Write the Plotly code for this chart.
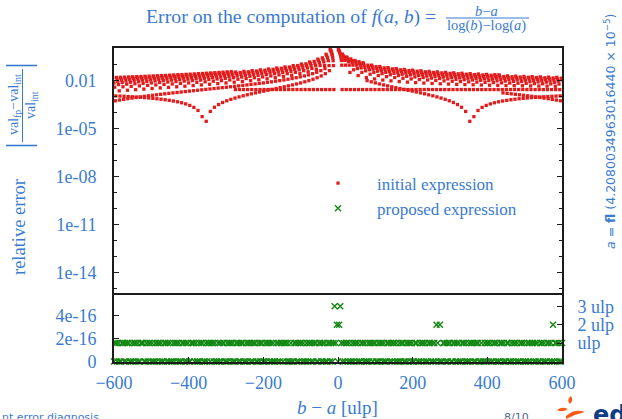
import plotly.graph_objects as go

# ------------------------------------------------------------------
# DATA  (k = b - a in ulp, relative error of the initial expression)
# ------------------------------------------------------------------
K0A = [-594, -583, -572, -561, -550, -539, -528, -517, -506, -495, -484, -473, -462, -451, -440,
       -429, -418, -407, -396, -385, -374, -363, -352, -341, -330, -319, -308, -297, -286]
E0A = [0.01601, 0.01637, 0.01675, 0.01714, 0.01755, 0.01797, 0.01841, 0.01887, 0.01936, 0.01986,
       0.02039, 0.02094, 0.02152, 0.02213, 0.02277, 0.02344, 0.02415, 0.0249, 0.02569, 0.02653,
       0.02741, 0.02836, 0.02936, 0.03044, 0.03158, 0.03281, 0.03413, 0.03555, 0.03708]
K0B = [-275, -264, -253, -242, -231, -220, -209, -198, -187, -176, -165, -154, -143, -132, -121,
       -110, -99, -88, -77, -66, -55, -44, -33, -22, -11, 11, 22, 33, 44, 55, 66, 77, 88, 99, 110,
       121, 132, 143, 154, 165, 176, 187, 198, 209, 220, 231, 242, 253, 264, 275, 286, 297, 308,
       319, 330, 341, 352, 363, 374, 385, 396, 407, 418, 429, 440, 451, 462, 473, 484, 495, 506,
       517, 528, 539, 550, 561, 572, 583, 594]
E0B = [0.0028, 0.0028, 0.0028, 0.0028, 0.0028, 0.0028, 0.0028, 0.0028, 0.0028, 0.0028,
       0.0028, 0.0028, 0.0028, 0.0028, 0.0028, 0.0028, 0.0028, 0.0028, 0.0028, 0.0028,
       0.0028, 0.0028, 0.0028, 0.0028, 0.0028, 0.0028, 0.0028, 0.0028, 0.0028, 0.0028,
       0.0028, 0.0028, 0.0028, 0.0028, 0.0028, 0.0028, 0.0028, 0.0028, 0.0028, 0.0028,
       0.0028, 0.0028, 0.0028, 0.0028, 0.0028, 0.0028, 0.0028, 0.0028, 0.0028, 0.0028,
       0.0028, 0.0028, 0.0028, 0.0028, 0.0028, 0.0028, 0.0028, 0.0028, 0.0028, 0.0028,
       0.0028, 0.0028, 0.0028, 0.0028, 0.0028, 0.0028, 0.0028, 0.0028, 0.0028, 0.0028,
       0.0028, 0.0028, 0.0028, 0.0028, 0.0028, 0.0028, 0.0028, 0.0028, 0.0028]

K1 = [-582, -560, -538, -516, -494, -472, -450, -428, -406, -384, -362, -340, -318, -296, -274,
      -252, -230, -208, -186, -164, -142, -120, -98, -76, -54, -32, -21, 1, 12, 23, 34, 45, 56, 67,
      78, 89, 100, 111, 122, 133, 144, 155, 166, 177, 188, 199, 210, 221, 232, 243, 254, 265, 276,
      287, 298, 309, 320, 331, 342, 353, 364, 375, 386, 397, 408, 419, 430, 441, 452, 463, 474,
      485, 496, 507, 518, 529, 540, 551, 562, 573, 584, 595]
E1 = [0.01463, 0.01533, 0.01608, 0.0169, 0.0178, 0.01878, 0.01986, 0.02105, 0.02238, 0.02386,
      0.02553, 0.02741, 0.02957, 0.03206, 0.03497, 0.0384, 0.04252, 0.04756, 0.05385, 0.06195,
      0.07274, 0.08785, 0.1105, 0.1483, 0.2238, 0.4505, 0.9037, 0.9093, 0.4561, 0.305, 0.2294,
      0.1841, 0.1539, 0.1323,
      0.01015, 0.008528, 0.007269, 0.006261, 0.005437, 0.004751, 0.004169, 0.003671, 0.00324,
      0.002862, 0.002529, 0.002232, 0.001967, 0.001729, 0.001513, 0.001317, 0.001137, 0.000973,
      0.000822, 0.000683, 0.000554, 0.000434, 0.000322, 0.000218, 0.00012, 2.89e-5, 5.69e-5,
      0.000138, 0.000214, 0.000286, 0.000354, 0.000418, 0.00048, 0.000538, 0.000593, 0.000646,
      0.000696, 0.000744, 0.000789, 0.000833, 0.000875, 0.000915, 0.000954, 0.000991, 0.001026,
      0.001061, 0.001094, 0.001125]

K2 = [-592, -570, -548, -526, -504, -482, -460, -438, -416, -394, -372, -350, -328, -306, -284,
      -262, -240, -218, -196, -174, -152, -130, -108, -86, -64, -42, -20, 2, 24, 46, 68, 90, 112,
      134, 156, 178, 200, 222, 244, 266, 288, 310, 332, 354, 376, 398, 420, 431,
      442, 453, 464, 475, 486, 497, 508, 519, 530, 541, 552, 563, 574, 585, 596]
E2 = [0.01259, 0.01319, 0.01385, 0.01456, 0.01533, 0.01617, 0.0171, 0.01812, 0.01925, 0.02051,
      0.02192, 0.02352, 0.02533, 0.02741, 0.02983, 0.03267, 0.03605, 0.04014, 0.04519, 0.05159,
      0.05996, 0.07137, 0.08785, 0.1138, 0.1604, 0.2692, 0.8131, 0.8187, 0.2748, 0.166, 0.1194,
      0.09346, 0.07698, 0.06557, 0.0572, 0.0508, 0.04575, 0.04166, 0.03828, 0.03544, 0.03302,
      0.03094, 0.02912, 0.02753, 0.02612, 0.02485, 0.02372, 0.0232,
      0.001729, 0.001618, 0.001513, 0.001412, 0.001317, 0.001225, 0.001137, 0.001054, 0.000973,
      0.000896, 0.000822, 0.000751, 0.000683, 0.000617, 0.000554]

K3 = [-580, -558, -536, -514, -492, -470, -448, -426, -404, -382, -360, -338, -316, -294, -272,
      -250, -228, -206, -184, -162, -140, -118, -96, -74, -52, -30, -19, 3, 14, 36, 58, 80, 102,
      124, 146, 168, 190, 212, 234, 256, 278, 300, 322, 344, 366, 388, 410, 432, 454, 476, 498,
      520, 542, 564, 586]
E3 = [0.01114, 0.0117, 0.0123, 0.01296, 0.01368, 0.01446, 0.01533, 0.01628, 0.01734, 0.01853,
      0.01986, 0.02137, 0.0231, 0.02509, 0.02741, 0.03016, 0.03346, 0.03749, 0.04252, 0.049,
      0.05763, 0.06972, 0.08785, 0.1181, 0.1785, 0.3598, 0.7224, 0.728, 0.3654, 0.1841, 0.1237,
      0.09346, 0.07533, 0.06324, 0.05461, 0.04813, 0.0431, 0.03907, 0.03577, 0.03302, 0.0307,
      0.02871, 0.02698, 0.02547, 0.02413, 0.02295, 0.02189, 0.02094, 0.02007, 0.01929, 0.01857,
      0.01791, 0.01731, 0.01675, 0.01623]

K4 = [-590, -568, -546, -524, -502, -480, -458, -436, -414, -392, -370, -348, -326, -304, -282,
      -260, -238, -216, -194, -172, -150, -128, -106, -84, -62, -40, -18, 4, 26, 48, 70, 92, 114,
      136, 158, 180, 202, 224, 246, 268, 290, 312, 334, 356, 378, 400, 422, 444, 466, 488, 510,
      532, 554, 576, 598]
E4 = [0.009169, 0.009639, 0.01015, 0.0107, 0.0113, 0.01195, 0.01267, 0.01347, 0.01435, 0.01533,
      0.01643, 0.01767, 0.01908, 0.0207, 0.02258, 0.02479, 0.02741, 0.0306, 0.03452, 0.0395,
      0.04601, 0.05489, 0.06771, 0.08785, 0.1241, 0.2087, 0.6318, 0.6374, 0.2143, 0.1297,
      0.09346, 0.07331, 0.06049, 0.05162, 0.04511, 0.04013, 0.0362, 0.03302, 0.03039, 0.02819,
      0.02631, 0.02469, 0.02327, 0.02203, 0.02094, 0.01996, 0.01908, 0.01828, 0.01756, 0.01691,
      0.01631, 0.01576, 0.01525, 0.01478, 0.01434]

K5 = [-600, -578, -556, -534, -512, -490, -468, -446, -424, -402, -380, -358, -336, -314, -292,
      -270, -248, -226, -204, -182, -160, -138, -116, -94, -72, -50, -28, -17, 5, 16, 38, 60, 82,
      104, 126, 148, 170, 192, 214, 236, 258, 280, 302, 324, 346, 368, 390, 412, 434, 456, 478,
      500, 522, 544, 566, 588]
E5 = [0.007269, 0.007656, 0.008075, 0.008528, 0.00902, 0.009558, 0.01015, 0.01079, 0.01151,
      0.0123, 0.01319, 0.01419, 0.01533, 0.01662, 0.01812, 0.01986, 0.02192, 0.02439, 0.02741,
      0.03119, 0.03605, 0.04252, 0.05159, 0.06519, 0.08785, 0.1332, 0.2692, 0.5411, 0.5467,
      0.2748, 0.1388, 0.09346, 0.0708, 0.0572, 0.04813, 0.04166, 0.0368, 0.03302, 0.03, 0.02753,
      0.02547, 0.02372, 0.02223, 0.02094, 0.0198, 0.0188, 0.01791, 0.01712, 0.0164, 0.01576,
      0.01517, 0.01463, 0.01414, 0.01368, 0.01326, 0.01288]

K6 = [-588, -566, -544, -522, -500, -478, -456, -434, -412, -390, -368, -346, -324, -302, -280,
      -258, -236, -214, -192, -170, -148, -126, -104, -82, -60, -38, -16, 6, 28, 50, 72, 94, 116,
      138, 160, 182, 204, 226, 248, 270, 292, 314, 336, 358, 380, 402, 424, 446, 468, 490, 512,
      534, 556, 578, 600]
E6 = [0.005748, 0.006084, 0.006446, 0.00684, 0.007269, 0.007737, 0.008251, 0.008818, 0.009447,
      0.01015, 0.01093, 0.01182, 0.01283, 0.01398, 0.01533, 0.0169, 0.01878, 0.02105, 0.02386,
      0.02741, 0.03206, 0.0384, 0.04756, 0.06195, 0.08785, 0.1483, 0.4505, 0.4561, 0.1539,
      0.09346, 0.06756, 0.05317, 0.04401, 0.03767, 0.03302, 0.02947, 0.02666, 0.02439, 0.02251,
      0.02094, 0.01959, 0.01843, 0.01743, 0.01654, 0.01576, 0.01506, 0.01443, 0.01386, 0.01335,
      0.01288, 0.01245, 0.01205, 0.01169, 0.01136, 0.01105]

K7 = [-598, -576, -554, -532, -510, -488, -466, -444, -422, -400, -378, -356, -334, -312, -290,
      -268, -246, -224, -202, -180, -158, -136, -114, -92, -70, -48, -26, -15, 7, 18, 40, 62, 84,
      106, 128, 150, 172, 194, 216, 238, 260, 282, 304, 326, 348, 370, 392, 414, 436, 458, 480,
      502, 524, 546, 568, 590]
E7 = [0.003911, 0.004169, 0.004448, 0.004751, 0.005079, 0.005437, 0.00583, 0.006261, 0.006739,
      0.007269, 0.007861, 0.008528, 0.009283, 0.01015, 0.01114, 0.0123, 0.01368, 0.01533, 0.01734,
      0.01986, 0.0231, 0.02741, 0.03346, 0.04252, 0.05763, 0.08785, 0.1785, 0.3626, 0.3654,
      0.1841, 0.09346, 0.06324, 0.04813, 0.03907, 0.03302, 0.02871, 0.02547, 0.02295, 0.02094,
      0.01929, 0.01791, 0.01675, 0.01576, 0.01489, 0.01414, 0.01347, 0.01288, 0.01235, 0.01187,
      0.01144, 0.01105, 0.01069, 0.01036, 0.01006, 0.009777, 0.009519]

K8 = [-586, -564, -542, -520, -498, -476, -454, -432, -410, -388, -366, -344, -322, -300, -278,
      -256, -234, -212, -190, -168, -146, -124, -102, -80, -58, -36, -14, 8, 30, 52, 74, 96, 118,
      140, 162, 184, 206, 228, 250, 272, 294, 316, 338, 360, 382, 404, 426, 448, 470, 492, 514,
      536, 558, 580]
E8 = [0.002327, 0.002529, 0.002746, 0.002982, 0.00324, 0.003521, 0.003829, 0.004169, 0.004546,
      0.004966, 0.005437, 0.005969, 0.006574, 0.007269, 0.008075, 0.00902, 0.01015, 0.01151,
      0.01319, 0.01533, 0.01812, 0.02192, 0.02741, 0.03605, 0.05159, 0.08785, 0.2692, 0.2748,
      0.09346, 0.0572, 0.04166, 0.03302, 0.02753, 0.02372, 0.02094, 0.0188, 0.01712, 0.01576,
      0.01463, 0.01368, 0.01288, 0.01218, 0.01158, 0.01105, 0.01057, 0.01015, 0.009777,
      0.009437, 0.009129, 0.008848, 0.00859, 0.008354, 0.008137, 0.007935]

K9 = [-596, -585, -574, -563, -552, -541, -530, -519, -508, -497, -486, -475, -464, -453, -442,
      -431, -420, -409, -398, -387, -376, -365, -354, -343, -332, -321, -310, -299, -288, -277,
      -266, -255, -244, -233, -222, -211, -200, -189, -178, -167, -156, -145, -134, -123, -112,
      -101, -90, -79, -68, -57, -46, -35, -24, -13, 9, 20, 42, 64, 86, 108, 130, 152, 174, 196,
      218, 240, 262, 284, 306, 328, 350, 372, 394, 416, 438, 460, 482, 504, 526, 548, 570, 592]
E9 = [0.000554, 0.000617, 0.000683, 0.000751, 0.000822, 0.000896, 0.000973, 0.001054, 0.001138,
      0.001225, 0.001317, 0.001413, 0.001513, 0.001618, 0.001729, 0.001845, 0.001967, 0.002096,
      0.002232, 0.002376, 0.002529, 0.00269, 0.002862, 0.003045, 0.00324, 0.003448, 0.003671,
      0.003911, 0.004169, 0.004448, 0.004751, 0.005079, 0.005437, 0.00583, 0.006262, 0.006739,
      0.007269, 0.007861, 0.008528, 0.009283, 0.01015, 0.01114, 0.0123, 0.01368, 0.01533,
      0.01734, 0.01986, 0.0231, 0.02741, 0.03346, 0.04252, 0.05763, 0.08785, 0.1785, 0.1841,
      0.09346, 0.04813, 0.03302, 0.02547, 0.02094, 0.01791, 0.01575, 0.01414, 0.01288, 0.01187,
      0.01105, 0.01036, 0.009778, 0.009279, 0.008848, 0.00847, 0.008137, 0.00784, 0.007575,
      0.007337, 0.007121, 0.006925, 0.006746, 0.006581, 0.00643, 0.006291, 0.006162]

K10 = [-595, -584, -573, -562, -551, -540, -529, -518, -507, -496, -485, -474, -463, -452, -441,
       -430, -419, -408, -397, -386, -375, -364, -353, -342, -331, -320, -309, -298, -287, -276,
       -265, -254, -243, -232, -221, -210, -199, -188, -177, -166, -155, -144, -133, -122, -111,
       -100, -89, -78, -67, -56, -45, -34, -23, -12, 10, 32, 54, 76, 98, 120, 142, 164, 186, 208,
       230, 252, 274, 296, 318, 340, 362, 384, 406, 428, 450, 472, 494, 516, 538, 560, 582]
E10 = [0.001125, 0.001094, 0.001061, 0.001026, 0.000991, 0.000954, 0.000915, 0.000875, 0.000833,
       0.000789, 0.000744, 0.000696, 0.000646, 0.000593, 0.000538, 0.00048, 0.000418, 0.000354,
       0.000286, 0.000214, 0.000138, 5.69e-5, 2.89e-5, 0.00012, 0.000218, 0.000322, 0.000434,
       0.000554, 0.000683, 0.000822, 0.000973, 0.001137, 0.001317, 0.001513, 0.001729, 0.001967,
       0.002232, 0.002529, 0.002862, 0.00324, 0.003671, 0.004169, 0.004751, 0.005437, 0.006261,
       0.007269, 0.008528, 0.01015, 0.0123, 0.01533, 0.01986, 0.02741, 0.04252, 0.08785,
       0.09346, 0.03302, 0.02094, 0.01575, 0.01288, 0.01105, 0.009778, 0.008848, 0.008137,
       0.007575, 0.007121, 0.006746, 0.00643, 0.006162, 0.00593, 0.005728, 0.005551, 0.005394,
       0.005254, 0.005129, 0.005015, 0.004912, 0.004819, 0.004733, 0.004654, 0.004582, 0.004515]

# proposed expression: error in ulps, one digit per sample of b - a (every 3 ulp, -600 .. 600)
GREEN_K = list(range(-600, 601, 3))
GREEN_ULPS = (
    "0110100110" "1011001011" "0100111001" "0110100101" "1010011010"
    "1001011010" "0110101001" "1101001011" "0010110110" "1001010110"
    "0101101001" "1010110010" "1101011001" "0110010110" "1010010101"
    "1011010010" "0110101101" "0010110101" "1001101010" "0110101312"
    "0231010110" "1001011010" "0110100101" "1011001011" "0100110101"
    "1010010110" "0101101001" "1001011010" "0110101021" "0200110101"
    "1001101010" "0110100101" "1010110010" "0101101001" "1010011010"
    "0110010110" "1001101001" "0101101010" "0110100110" "1020110100"
    "1"
)
ULP = 1.61e-16            # relative ulp of f(a, b)

X_TICKS = [-600, -400, -200, 0, 200, 400, 600]
X_TICKTEXT = ["\u2212600", "\u2212400", "\u2212200", "0", "200", "400", "600"]
TOP_TICKS = [1e-14, 1e-11, 1e-8, 1e-5, 1e-2]
TOP_TICKTEXT = ["1e-14", "1e-11", "1e-08", "1e-05", "0.01"]
BOT_TICKS = [0, 2e-16, 4e-16]
BOT_TICKTEXT = ["0", "2e-16", "4e-16"]
ULP_TICKS = [1, 2, 3]
ULP_TICKTEXT = ["ulp", "2 ulp", "3 ulp"]

pairs = [(K0A, E0A), (K0B, E0B), (K1, E1), (K2, E2), (K3, E3), (K4, E4), (K5, E5),
         (K6, E6), (K7, E7), (K8, E8), (K9, E9), (K10, E10)]
for kk, ee in pairs:
    assert len(kk) == len(ee), (len(kk), len(ee))
assert len(GREEN_ULPS) == len(GREEN_K)

RED_K, RED_E = [], []
for kk, ee in pairs:
    RED_K += kk
    RED_E += ee
GREEN_V = [int(c) * ULP for c in GREEN_ULPS]

# ------------------------------------------------------------------
W, H = 622, 419
BLUE = "#3a7bd0"
RED = "#e21c1c"
GREEN = "#138713"
AXC = "#1c1c1c"
SERIF = "Liberation Serif, Times New Roman, serif"
SANS = "DejaVu Sans, Liberation Sans, sans-serif"


def px(x):
    return x / W


def py(y):
    return 1 - y / H


XD = [px(114), px(562)]
TOP_D = [py(293), py(48)]
BOT_D = [py(361.5), py(295)]
BOT_RANGE = [0, 5.81e-16]

fig = go.Figure()
fig.add_trace(go.Scatter(
    x=RED_K, y=RED_E, mode="markers", name="initial expression",
    xaxis="x2", yaxis="y2", cliponaxis=False,
    marker=dict(symbol="square", size=3.3, color=RED, line=dict(width=0)),
))
fig.add_trace(go.Scatter(
    x=GREEN_K, y=GREEN_V, mode="markers", name="proposed expression",
    xaxis="x", yaxis="y", cliponaxis=False,
    marker=dict(symbol="x-thin", size=6, color=GREEN, line=dict(width=1.4, color=GREEN)),
))
fig.add_trace(go.Scatter(x=[], y=[], xaxis="x", yaxis="y3", showlegend=False,
                         hoverinfo="skip"))

tickfont = dict(family=SERIF, size=18, color=BLUE)
common = dict(showgrid=False, zeroline=False, showline=True, linecolor=AXC, linewidth=1.7,
              tickcolor=AXC, tickwidth=1, tickfont=tickfont, automargin=False)

fig.update_layout(
    template="none",
    width=W, height=H, margin=dict(l=0, r=0, t=0, b=0, autoexpand=False),
    paper_bgcolor="white", plot_bgcolor="white",
    showlegend=True,
    legend=dict(x=px(299), y=py(165.5), xanchor="left", yanchor="top",
                font=dict(family=SERIF, size=17, color=BLUE), itemwidth=68,
                bgcolor="rgba(0,0,0,0)", borderwidth=0, tracegroupgap=0),
    xaxis=dict(domain=XD, anchor="y", range=[-600, 600], tickmode="array",
               tickvals=X_TICKS, ticktext=X_TICKTEXT, ticks="inside", ticklen=5,
               mirror=True, ticklabelstandoff=4, **common),
    xaxis2=dict(domain=XD, anchor="y2", range=[-600, 600], matches="x",
                showticklabels=False, ticks="", mirror=True, **common),
    yaxis=dict(domain=BOT_D, anchor="x", range=BOT_RANGE, tickmode="array",
               tickvals=BOT_TICKS, ticktext=BOT_TICKTEXT, ticks="inside", ticklen=5,
               ticklabelstandoff=12, **common),
    yaxis3=dict(overlaying="y", side="right", anchor="x", range=BOT_RANGE,
                tickmode="array", tickvals=[v * ULP for v in ULP_TICKS],
                ticktext=ULP_TICKTEXT, ticks="inside", ticklen=5, ticklabelstandoff=10,
                **common),
    yaxis2=dict(domain=TOP_D, anchor="x2", type="log", range=[-15.27, 0.044],
                tickmode="array", tickvals=TOP_TICKS, ticktext=TOP_TICKTEXT,
                ticks="inside", ticklen=5, mirror="ticks", ticklabelstandoff=12,
                minor=dict(ticks="inside", ticklen=3, dtick=1, tickcolor=AXC),
                **common),
)

ann = []
# title
ann.append(dict(x=px(291), y=py(17), xref="paper", yref="paper", xanchor="center",
                yanchor="middle", showarrow=False,
                text="Error on the computation of <i>f</i>(<i>a</i>, <i>b</i>) =",
                font=dict(family=SERIF, size=19.8, color=BLUE)))
ann.append(dict(x=px(487), y=py(10.5), xref="paper", yref="paper", xanchor="center",
                yanchor="middle", showarrow=False, text="<i>b</i>\u2212<i>a</i>",
                font=dict(family=SERIF, size=14.5, color=BLUE)))
ann.append(dict(x=px(487), y=py(26), xref="paper", yref="paper", xanchor="center",
                yanchor="middle", showarrow=False,
                text="log(<i>b</i>)\u2212log(<i>a</i>)",
                font=dict(family=SERIF, size=14.5, color=BLUE)))
# x axis title
ann.append(dict(x=px(337), y=py(407), xref="paper", yref="paper", xanchor="center",
                yanchor="middle", showarrow=False,
                text="<i>b</i> \u2212 <i>a</i> [ulp]",
                font=dict(family=SERIF, size=19, color=BLUE)))
# left y titles
ann.append(dict(x=px(19), y=py(227), xref="paper", yref="paper", xanchor="center",
                yanchor="middle", showarrow=False, textangle=-90, text="relative error",
                font=dict(family=SERIF, size=18.5, color=BLUE)))
ann.append(dict(x=px(14), y=py(105), xref="paper", yref="paper", xanchor="center",
                yanchor="middle", showarrow=False, textangle=-90,
                text="val<sub>fp</sub>\u2212val<sub>int</sub>",
                font=dict(family=SERIF, size=14, color=BLUE)))
ann.append(dict(x=px(31), y=py(105), xref="paper", yref="paper", xanchor="center",
                yanchor="middle", showarrow=False, textangle=-90,
                text="val<sub>int</sub>",
                font=dict(family=SERIF, size=14, color=BLUE)))
# right label
ann.append(dict(x=px(610), y=py(131), xref="paper", yref="paper", xanchor="center",
                yanchor="middle", showarrow=False, textangle=-90,
                text="<i>a</i> = <b>fl</b> (4.2080034963016440 \u00d7 10<sup>\u22125</sup>)",
                font=dict(family=SANS, size=12.5, color=BLUE)))
# slide footer
ann.append(dict(x=0, y=py(409), xref="paper", yref="paper", xanchor="left",
                yanchor="top", showarrow=False, text="nt error diagnosis",
                font=dict(family=SANS, size=11, color=BLUE)))
ann.append(dict(x=px(502), y=py(409), xref="paper", yref="paper", xanchor="left",
                yanchor="top", showarrow=False, text="8/10",
                font=dict(family=SANS, size=11, color="#52698f")))
ann.append(dict(x=px(591), y=py(399), xref="paper", yref="paper", xanchor="left",
                yanchor="top", showarrow=False, text="<b>edf</b>",
                font=dict(family=SANS, size=24, color="#0f3c87")))
fig.update_layout(annotations=ann)

shp = []
# title fraction bar
shp.append(dict(type="line", xref="paper", yref="paper", x0=px(446), x1=px(529),
                y0=py(18), y1=py(18), line=dict(color=BLUE, width=1)))
# rotated fraction bar and absolute-value bars for the y label
shp.append(dict(type="line", xref="paper", yref="paper", x0=px(22.5), x1=px(22.5),
                y0=py(69), y1=py(142), line=dict(color=BLUE, width=1)))
shp.append(dict(type="line", xref="paper", yref="paper", x0=px(6), x1=px(37),
                y0=py(65.5), y1=py(65.5), line=dict(color=BLUE, width=1.6)))
shp.append(dict(type="line", xref="paper", yref="paper", x0=px(6), x1=px(37),
                y0=py(145.5), y1=py(145.5), line=dict(color=BLUE, width=1.6)))
# logo swirls


def path(points):
    s = "M %f,%f" % (px(points[0][0]), py(points[0][1]))
    for i in range(1, len(points) - 1, 2):
        s += " Q %f,%f %f,%f" % (px(points[i][0]), py(points[i][1]),
                                 px(points[i + 1][0]), py(points[i + 1][1]))
    return s + " Z"


ORANGE = "#fe5a12"
shp.append(dict(type="path", xref="paper", yref="paper",
                path=path([(571, 396), (566, 400), (570, 404), (574, 400), (571, 396)]),
                fillcolor=ORANGE, line=dict(width=0)))
shp.append(dict(type="path", xref="paper", yref="paper",
                path=path([(557, 410), (562, 406), (568, 409), (562, 413), (557, 410)]),
                fillcolor=ORANGE, line=dict(width=0)))
shp.append(dict(type="path", xref="paper", yref="paper",
                path=path([(566, 416), (575, 408), (585, 412), (576, 414), (566, 419)]),
                fillcolor=ORANGE, line=dict(width=0)))
fig.update_layout(shapes=shp)

fig.write_html("out.html", config={"displayModeBar": False},
               post_script="document.body.style.margin='0px';"
                           "document.body.style.overflow='hidden';")
